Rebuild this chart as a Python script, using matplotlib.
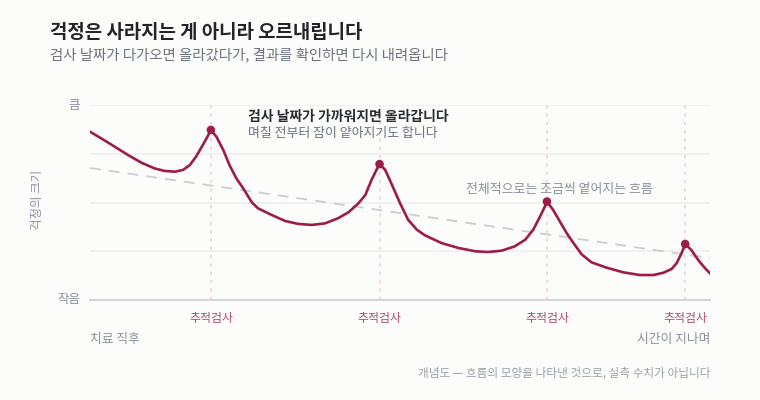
import numpy as np
import matplotlib.pyplot as plt

plt.rcParams['font.family'] = ['Noto Sans CJK KR', 'DejaVu Sans']

# 개념도 곡선 (시간 0~100, 걱정 크기 0~100) - 그림에서 읽은 값
time = [0.0, 1.8, 4.0, 6.1, 8.3, 10.4, 12.0, 13.7, 15.0, 16.1, 17.1, 18.2,
        19.0, 19.5, 20.4, 21.5, 22.5, 23.6, 24.7, 26.1, 27.1, 29.3, 31.5,
        33.6, 35.8, 37.9, 40.0, 41.7, 43.3, 44.4, 45.4, 46.2, 46.7, 47.6,
        48.7, 50.0, 51.3, 52.7, 54.0, 56.7, 59.4, 62.1, 64.2, 66.4, 68.5,
        70.2, 71.5, 72.6, 73.3, 73.7, 74.7, 75.8, 76.9, 78.0, 79.3, 80.9,
        83.3, 86.0, 88.7, 90.9, 92.5, 93.8, 94.6, 95.4, 96.0, 97.0, 98.1,
        99.2, 100]
worry = [86.3, 82.9, 78.6, 74.4, 70.4, 67.5, 66.2, 65.8, 66.7, 69.2, 73.5,
         79.5, 84.1, 87.2, 83.7, 76.9, 69.2, 62.4, 57.3, 50.1, 47.0, 43.6,
         40.5, 39.0, 38.5, 39.3, 41.9, 45.0, 49.6, 53.8, 61.5, 66.7, 69.7,
         66.8, 59.1, 49.7, 41.2, 36.1, 33.2, 29.2, 26.7, 25.0, 24.6, 25.3,
         27.5, 30.9, 36.1, 42.9, 47.5, 50.5, 46.2, 40.2, 34.2, 29.1, 23.4,
         19.3, 16.6, 14.2, 12.8, 12.8, 14.0, 15.9, 18.8, 23.9, 28.7, 25.6,
         20.5, 16.3, 13.7]

checkups = [19.5, 46.7, 73.7, 96.0]
peaks = [87.2, 69.7, 50.5, 28.7]
checkup_labels = ['추적검사'] * 4

trend_x = [0, 100]
trend_y = [67.7, 21.5]

W, H = 760, 400
bg = '#fcfcfb'
red = '#9c1c4a'
grey = '#8a909c'

fig = plt.figure(figsize=(W / 100, H / 100), dpi=100, facecolor=bg)
ax = fig.add_axes([90 / W, 1 - 300 / H, 620 / W, 195 / H])
ax.set_facecolor(bg)
ax.set_xlim(0, 100)
ax.set_ylim(0, 100)
for s in ax.spines.values():
    s.set_visible(False)
ax.set_xticks([])
ax.set_yticks([])

# 가로 격자선
for gy in [25, 50, 75, 100]:
    ax.axhline(gy, color='#eeeff2', lw=1.2, zorder=0)
ax.axhline(0, color='#d3d6de', lw=1.5, zorder=1, clip_on=False)

# 추적검사 세로 점선
for cx in checkups:
    ax.axvline(cx, color='#f0d3db', lw=1.2, ls=(0, (2, 3)), zorder=0)

ax.plot(trend_x, trend_y, color='#c9cdd6', lw=1.3, ls=(0, (6, 4.5)), zorder=2)
ax.plot(time, worry, color=red, lw=1.9, zorder=3, solid_joinstyle='round')
ax.scatter(checkups, peaks, s=38, color=red, zorder=4, edgecolors='none')

# y축 라벨
ax.text(-1.6, 100, '큼', ha='right', va='center', fontsize=9, color=grey)
ax.text(-1.6, 0, '작음', ha='right', va='center', fontsize=9, color=grey)
fig.text(37 / W, 1 - 200 / H, '걱정의 크기', rotation=90, ha='center', va='center',
         fontsize=9, color='#8c94a8')

# x축 라벨
for cx, lab in zip(checkups, checkup_labels):
    ax.text(cx, -9.7, lab, ha='center', va='center', fontsize=8.6, color='#b24a70')
fig.text(90 / W, 1 - 340 / H, '치료 직후', ha='left', va='center', fontsize=9.2, color=grey)
fig.text(710 / W, 1 - 340 / H, '시간이 지나며', ha='right', va='center', fontsize=9.2, color=grey)

# 주석
fig.text(248 / W, 1 - 117 / H, '검사 날짜가 가까워지면 올라갑니다', ha='left', va='center',
         fontsize=10, fontweight='bold', color='#2a2d34')
fig.text(248 / W, 1 - 134 / H, '며칠 전부터 잠이 얕아지기도 합니다', ha='left', va='center',
         fontsize=9.3, color='#6b7180')
fig.text(559 / W, 1 - 190 / H, '전체적으로는 조금씩 옅어지는 흐름', ha='center', va='center',
         fontsize=9.3, color=grey)

# 제목
fig.text(50 / W, 1 - 32 / H, '걱정은 사라지는 게 아니라 오르내립니다', ha='left', va='center',
         fontsize=13.6, fontweight='bold', color='#23252b')
fig.text(50 / W, 1 - 55 / H, '검사 날짜가 다가오면 올라갔다가, 결과를 확인하면 다시 내려옵니다',
         ha='left', va='center', fontsize=10.4, color='#6b7280')
fig.text(710 / W, 1 - 373 / H, '개념도 — 흐름의 모양을 나타낸 것으로, 실측 수치가 아닙니다',
         ha='right', va='center', fontsize=8.4, color='#9a9fa9')

fig.savefig('out.png', dpi=100, facecolor=bg)
